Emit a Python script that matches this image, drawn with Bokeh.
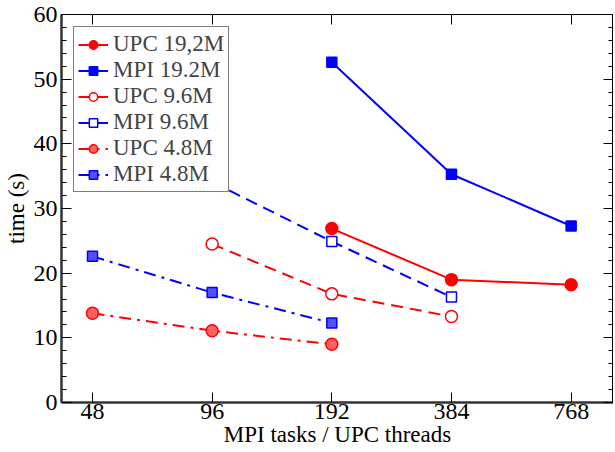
from bokeh.plotting import figure
from bokeh.models import (Range1d, FixedTicker, SingleIntervalTicker, LinearAxis, LogAxis,
                          Legend, LegendItem, CustomJSTickFormatter)
from bokeh.embed import file_html
from bokeh.resources import INLINE

# ---- data ----
x_ticks = [48, 96, 192, 384, 768]

upc_192_x = [192, 384, 768]
upc_192_y = [26.9, 19.0, 18.2]
mpi_192_x = [192, 384, 768]
mpi_192_y = [52.6, 35.3, 27.3]

upc_96_x = [96, 192, 384]
upc_96_y = [24.5, 16.8, 13.3]
mpi_96_x = [96, 192, 384]
mpi_96_y = [34.1, 24.9, 16.3]

upc_48_x = [48, 96, 192]
upc_48_y = [13.8, 11.1, 9.0]
mpi_48_x = [48, 96, 192]
mpi_48_y = [22.6, 17.0, 12.3]

FONT = "Liberation Serif"
RED = "#ff0000"
BLUE = "#0000ff"

p = figure(frame_width=552, frame_height=388, output_backend="svg", toolbar_location=None,
           x_axis_type="log",
           x_range=Range1d(48 * 2 ** -0.259, 768 * 2 ** 0.354),
           y_range=Range1d(0, 60),
           min_border_left=54, min_border_right=0, min_border_top=14, min_border_bottom=40)
p.grid.visible = False
p.outline_line_color = "black"
p.outline_line_width = 1
p.background_fill_color = "white"
p.border_fill_color = "white"

# bottom axis
xa = p.xaxis[0]
xa.ticker = FixedTicker(ticks=x_ticks, minor_ticks=[])
xa.formatter = CustomJSTickFormatter(code="return String(Math.round(tick));")
xa.major_tick_in = 10
xa.major_tick_out = 0
xa.minor_tick_in = 0
xa.minor_tick_out = 0
xa.axis_line_width = 2.5
xa.axis_line_color = "#333333"
xa.major_tick_line_color = "black"
xa.major_label_text_font = FONT
xa.major_label_text_font_size = "24px"
xa.major_label_text_color = "black"
xa.major_label_standoff = 1
xa.axis_label = "MPI tasks / UPC threads"
xa.axis_label_text_font = FONT
xa.axis_label_text_font_size = "23px"
xa.axis_label_text_font_style = "normal"
xa.axis_label_text_color = "black"
xa.axis_label_standoff = 0

# left axis
ya = p.yaxis[0]
ya.ticker = SingleIntervalTicker(interval=10, num_minor_ticks=5)
ya.major_tick_in = 10
ya.major_tick_out = 0
ya.minor_tick_in = 5
ya.minor_tick_out = 0
ya.axis_line_width = 2.5
ya.axis_line_color = "#333333"
ya.major_label_text_font = FONT
ya.major_label_text_font_size = "24px"
ya.major_label_text_color = "black"
ya.major_label_standoff = 4
ya.axis_label = "time (s)"
ya.axis_label_text_font = FONT
ya.axis_label_text_font_size = "23px"
ya.axis_label_text_font_style = "normal"
ya.axis_label_text_color = "black"
ya.axis_label_standoff = 2

# mirrored axes
top = LogAxis(ticker=FixedTicker(ticks=x_ticks, minor_ticks=[]),
              major_label_text_font_size="0px", major_tick_in=10, major_tick_out=0,
              minor_tick_in=0, minor_tick_out=0, axis_line_color="black",
              major_label_standoff=0)
top.major_label_text_alpha = 0
p.add_layout(top, "above")
right = LinearAxis(ticker=SingleIntervalTicker(interval=10, num_minor_ticks=5),
                   major_label_text_font_size="0px", major_tick_in=10, major_tick_out=0,
                   minor_tick_in=5, minor_tick_out=0, axis_line_color="black",
                   major_label_standoff=0)
right.major_label_text_alpha = 0
p.add_layout(right, "right")

items = []

def series(xs, ys, color, dash, marker, fill, hatch, label):
    r1 = p.line(xs, ys, line_color=color, line_width=2, line_dash=dash)
    kw = dict(marker=marker, size=12 if marker == "circle" else 10, line_color=color,
              line_width=1.5, fill_color=fill)
    if hatch:
        kw.update(hatch_pattern="checker", hatch_color="white", hatch_scale=2.5, hatch_alpha=0.6)
    r2 = p.scatter(xs, ys, **kw)
    items.append(LegendItem(label=label, renderers=[r1, r2]))

series(upc_192_x, upc_192_y, RED, "solid", "circle", RED, False, "UPC 19,2M")
series(mpi_192_x, mpi_192_y, BLUE, "solid", "square", BLUE, False, "MPI 19.2M")
series(upc_96_x, upc_96_y, RED, "12 7", "circle", "white", False, "UPC 9.6M")
series(mpi_96_x, mpi_96_y, BLUE, "12 7", "square", "white", False, "MPI 9.6M")
series(upc_48_x, upc_48_y, RED, "12 6 3 6", "circle", "#ff6060", True, "UPC 4.8M")
series(mpi_48_x, mpi_48_y, BLUE, "12 6 3 6", "square", "#5050ff", True, "MPI 4.8M")

legend = Legend(items=items, location="top_left", margin=12,
                border_line_color="black", border_line_width=1,
                label_text_font=FONT, label_text_font_size="23px",
                label_text_line_height=0.85,
                label_height=21, glyph_height=21, glyph_width=30,
                spacing=0, padding=4, label_standoff=5,
                background_fill_alpha=1)
p.add_layout(legend)

open("out.html", "w").write(file_html(p, INLINE))
